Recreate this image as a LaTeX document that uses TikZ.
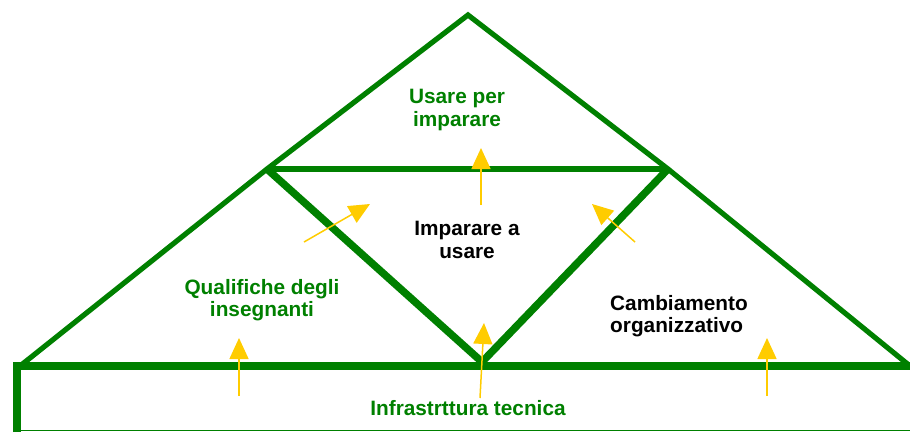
\documentclass[tikz,border=0pt]{standalone}
\usepackage{fontspec}
\setmainfont{Liberation Sans}
\usetikzlibrary{arrows.meta}
\definecolor{leaf}{RGB}{0,128,0}
\definecolor{sun}{RGB}{255,204,0}
\tikzset{tl/.style = {draw=leaf, line width=5.2pt},
    tk/.style = {draw=leaf, line width=7.5pt},
    th/.style = {draw=leaf, line width=1pt},
    ya/.style = {draw=sun, fill=sun, line width=1.5pt, ->},
    gl/.style = {text=leaf, font=\bfseries\fontsize{20.8}{22.5}\selectfont, align=center, inner sep=0pt},
    bl/.style = {gl, text=black}}

\begin{document}
\begin{tikzpicture}[x=1pt, y=-1pt, >={Triangle[length=21pt, width=19pt]}]
        \useasboundingbox (0,0) rectangle (910,432);
        \coordinate (a) at (468,15);
        \foreach \n/\x/\y in {p/267/169, q/668/169, l/20/366, m/482/362, r/910/366}
            \coordinate (\n) at (\x,\y);
        \foreach \n/\x/\y in {c/17/366, t/17/432, u/17/430, v/910/430}
            \coordinate (\n) at (\x,\y);

        \draw[tl] (l) -- (p) -- (a) -- (q) -- (r);
        \draw[tl] (p) -- (q);
        \draw[tk] (p) -- (m) -- (q);
        \draw[tk] (t) -- (c) -- (r);
        \draw[th] (u) -- (v);

        \foreach \n/\x/\y/\X/\Y in {e/480/398/484/323, f/239/396/239/338, g/767/396/767/338,
                h/481/205/481/148, i/304/242/370/204, j/635/242/592/204} {
            \coordinate (\n0) at (\x,\y);
            \coordinate (\n1) at (\X,\Y);
            \draw[ya] (\n0) -- (\n1);
        }

        \node[gl] (usare) at (457,110) {Usare per\\imparare};
        \node[bl] (impara) at (467,240) {Imparare a\\usare};
        \node[gl] (quali) at (262,300) {Qualifiche degli\\insegnanti};
        \node[bl, align=left, anchor=west] (cambio) at (610,316) {Cambiamento\\organizzativo};
        \node[gl, anchor=base] (infra) at (468,415) {Infrastrttura tecnica};
    \end{tikzpicture}
\end{document}
